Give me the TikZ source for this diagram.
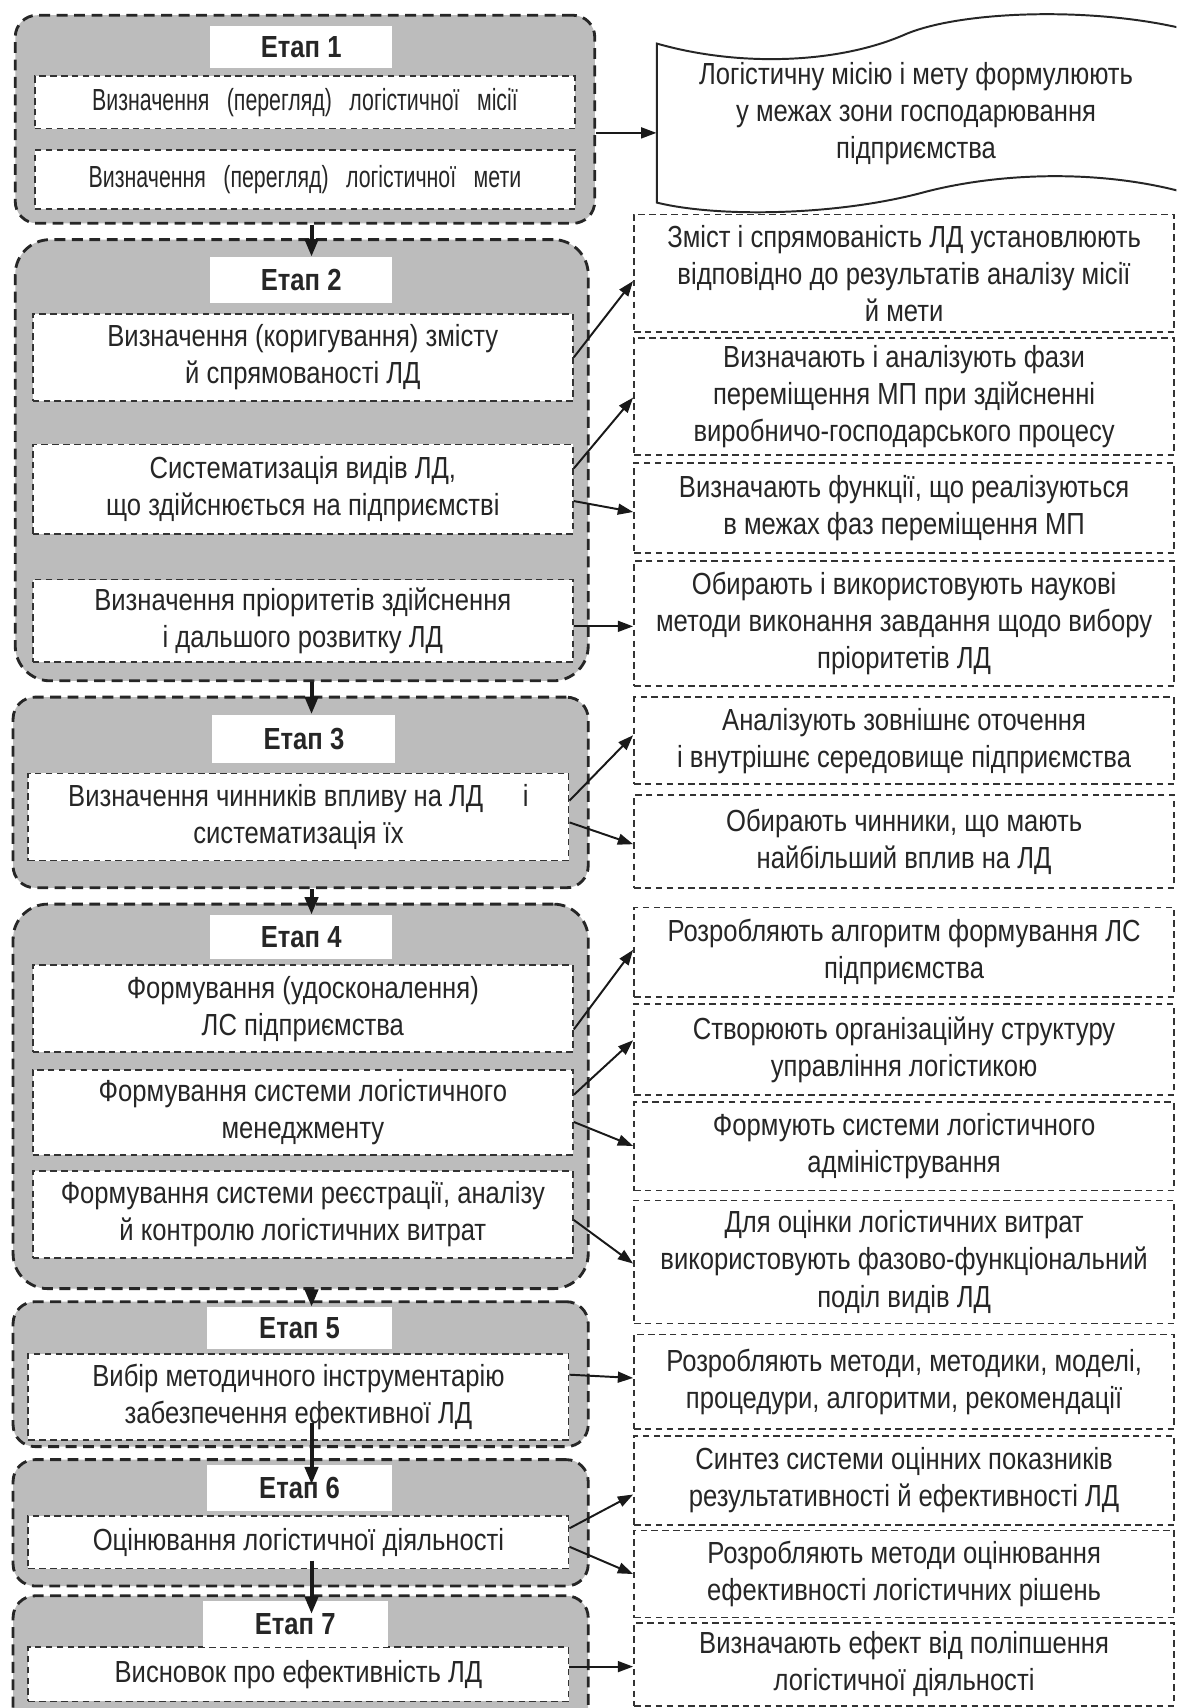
\documentclass[tikz,border=0pt]{standalone}
\usepackage{fontspec}
\setmainfont[FakeStretch=0.84]{Liberation Sans}
\newfontfamily\narrowf[FakeStretch=0.70]{Liberation Sans}
\usetikzlibrary{arrows.meta}
\definecolor{stagegray}{RGB}{188,188,188}
\definecolor{txt}{RGB}{38,38,38}
\tikzset{
  stagebox/.style={draw=black!85, fill=stagegray, dash pattern=on 5pt off 3pt, line width=1.3pt, rounded corners=10pt},
  inbox/.style={draw=black!80, fill=white, dash pattern=on 3pt off 2pt, line width=0.8pt, align=center,
    font=\fontsize{14}{17}\selectfont, text=txt, inner sep=0pt},
  lbl/.style={fill=white, font=\bfseries\fontsize{14}{16}\selectfont, text=txt, inner sep=0pt},
  flow/.style={-{Triangle[length=8pt,width=6pt]}, line width=1.8pt, draw=black!90},
  link/.style={-{Triangle[length=7pt,width=5pt]}, line width=0.9pt, draw=black!90},
}
\newcommand\placebox[7]{%
  \node[#1, minimum width={(#5-#3)*0.5pt}, minimum height={(#6-#4)*0.5pt}] (#2) at ({(#3+#5)/2},{(#4+#6)/2}) {#7};}
\newcommand\ws{\hspace{8pt}}
\begin{document}
\begin{tikzpicture}[x=0.5pt,y=-0.5pt]
\useasboundingbox (0,0) rectangle (1080,1568);
\clip (0,0) rectangle (1080,1568);
\fill[white] (0,0) rectangle (1080,1568);

% ---------- Stage 1 ----------
\placebox{stagebox}{s1}{14}{14}{546}{205}{}
\placebox{lbl}{l1}{193}{24}{360}{62}{Етап 1}
\placebox{inbox}{i11}{32}{70}{528}{118}{\narrowf Визначення\ws (перегляд)\ws логістичної\ws місії}
\placebox{inbox}{i12}{32}{138}{528}{192}{\narrowf Визначення\ws (перегляд)\ws логістичної\ws мети}

% document shape
\node[minimum width=238.5pt, minimum height=90pt, inner sep=0pt] (doc) at (841.5,115) {};
\draw[line width=0.9pt, black!85, fill=white]
  (603,40) .. controls (680,62) and (770,58) .. (830,32)
  .. controls (880,10) and (1000,6) .. (1085,26)
  -- (1085,176)
  .. controls (1010,156) and (920,158) .. (850,176)
  .. controls (770,198) and (660,200) .. (603,186) -- cycle;
\node[align=center, font=\fontsize{14}{17}\selectfont, text=txt] (doct) at (841,104)
  {Логістичну місію і мету формулюють\\у межах зони господарювання\\підприємства};
\draw[link] (s1.east |- 0,122) -- (doc.west |- 0,122);

% ---------- Stage 2 ----------
\placebox{stagebox, rounded corners=16pt}{s2}{14}{220}{540}{625}{}
\placebox{lbl}{l2}{193}{236}{360}{278}{Етап 2}
\placebox{inbox}{i21}{30}{288}{526}{368}{Визначення (коригування) змісту\\й спрямованості ЛД}
\placebox{inbox}{i22}{30}{408}{526}{490}{Систематизація видів ЛД,\\що здійснюється на підприємстві}
\placebox{inbox}{i23}{30}{532}{526}{608}{Визначення пріоритетів здійснення\\і дальшого розвитку ЛД}

% ---------- Stage 3 ----------
\placebox{stagebox}{s3}{12}{640}{540}{815}{}
\placebox{lbl}{l3}{195}{656}{363}{700}{Етап 3}
\placebox{inbox}{i31}{26}{710}{522}{790}{Визначення чинників впливу на ЛД\hspace{1.3em}і\\систематизація їх}

% ---------- Stage 4 ----------
\placebox{stagebox, rounded corners=16pt}{s4}{12}{830}{540}{1183}{}
\placebox{lbl}{l4}{193}{840}{360}{880}{Етап 4}
\placebox{inbox}{i41}{30}{886}{526}{966}{Формування (удосконалення)\\ЛС підприємства}
\placebox{inbox}{i42}{30}{982}{526}{1060}{Формування системи логістичного\\менеджменту}
\placebox{inbox}{i43}{30}{1075}{526}{1155}{Формування системи реєстрації, аналізу\\й контролю логістичних витрат}

% ---------- Stage 5 ----------
\placebox{stagebox}{s5}{12}{1195}{540}{1328}{}
\placebox{lbl}{l5}{190}{1200}{360}{1238}{Етап 5}
\placebox{inbox}{i51}{26}{1243}{522}{1322}{Вибір методичного інструментарію\\забезпечення ефективної ЛД}

% ---------- Stage 6 ----------
\placebox{stagebox}{s6}{12}{1340}{540}{1456}{}
\placebox{lbl}{l6}{190}{1345}{360}{1387}{Етап 6}
\placebox{inbox}{i61}{26}{1392}{522}{1440}{Оцінювання логістичної діяльності}

% ---------- Stage 7 ----------
\placebox{stagebox}{s7}{12}{1465}{540}{1610}{}
\placebox{inbox}{i71}{26}{1512}{522}{1562}{Висновок про ефективність ЛД}
\placebox{lbl}{l7}{186}{1470}{356}{1512}{Етап 7}

% ---------- Right column ----------
\placebox{inbox}{r1}{582}{197}{1078}{305}{Зміст і спрямованість ЛД установлюють\\відповідно до результатів аналізу місії\\й мети}
\placebox{inbox}{r2}{582}{310}{1078}{418}{Визначають і аналізують фази\\переміщення МП при здійсненні\\виробничо-господарського процесу}
\placebox{inbox}{r3}{582}{425}{1078}{508}{Визначають функції, що реалізуються\\в межах фаз переміщення МП}
\placebox{inbox}{r4}{582}{515}{1078}{630}{Обирають і використовують наукові\\методи виконання завдання щодо вибору\\пріоритетів ЛД}
\placebox{inbox}{r5}{582}{640}{1078}{720}{Аналізують зовнішнє оточення\\і внутрішнє середовище підприємства}
\placebox{inbox}{r6}{582}{730}{1078}{815}{Обирають чинники, що мають\\найбільший вплив на ЛД}
\placebox{inbox}{r7}{582}{833}{1078}{915}{Розробляють алгоритм формування ЛС\\підприємства}
\placebox{inbox}{r8}{582}{922}{1078}{1005}{Створюють організаційну структуру\\управління логістикою}
\placebox{inbox}{r9}{582}{1012}{1078}{1093}{Формують системи логістичного\\адміністрування}
\placebox{inbox}{r10}{582}{1102}{1078}{1215}{Для оцінки логістичних витрат\\використовують фазово-функціональний\\поділ видів ЛД}
\placebox{inbox}{r11}{582}{1225}{1078}{1312}{Розробляють методи, методики, моделі,\\процедури, алгоритми, рекомендації}
\placebox{inbox}{r12}{582}{1318}{1078}{1400}{Синтез системи оцінних показників\\результативності й ефективності ЛД}
\placebox{inbox}{r13}{582}{1405}{1078}{1485}{Розробляють методи оцінювання\\ефективності логістичних рішень}
\placebox{inbox}{r14}{582}{1490}{1078}{1566}{Визначають ефект від поліпшення\\логістичної діяльності}

% ---------- links ----------
\draw[link] (i21.east |- 0,328) -- (r1.west |- 0,258);
\draw[link] (i22.east |- 0,430) -- (r2.west |- 0,365);
\draw[link] (i22.east |- 0,460) -- (r3.west |- 0,470);
\draw[link] (i23.east |- 0,575) -- (r4.west |- 0,575);
\draw[link] (i31.east |- 0,735) -- (r5.west |- 0,675);
\draw[link] (i31.east |- 0,755) -- (r6.west |- 0,775);
\draw[link] (i41.east |- 0,945) -- (r7.west |- 0,872);
\draw[link] (i42.east |- 0,1005) -- (r8.west |- 0,955);
\draw[link] (i42.east |- 0,1030) -- (r9.west |- 0,1052);
\draw[link] (i43.east |- 0,1120) -- (r10.west |- 0,1160);
\draw[link] (i51.east |- 0,1262) -- (r11.west |- 0,1265);
\draw[link] (i61.east |- 0,1403) -- (r12.west |- 0,1372);
\draw[link] (i61.east |- 0,1420) -- (r13.west |- 0,1445);
\draw[link] (i71.east |- 0,1530) -- (r14.west |- 0,1530);

% ---------- flow arrows ----------
\def\ax{286}
\draw[flow] (\ax,0 |- s1.south) -- (\ax,0 |- l2.north);
\draw[flow] (\ax,0 |- s2.south) -- (\ax,0 |- l3.north);
\draw[flow] (\ax,0 |- s3.south) -- (\ax,0 |- l4.north);
\draw[flow] (\ax,0 |- s4.south) -- (\ax,0 |- l5.north);
\draw[flow] ([yshift=8pt]i51.south -| \ax,0) -- ([yshift=-9pt]l6.north -| \ax,0);
\draw[flow] ([yshift=4pt]i61.south -| \ax,0) -- ([yshift=-6pt]l7.north -| \ax,0);
\end{tikzpicture}
\end{document}
